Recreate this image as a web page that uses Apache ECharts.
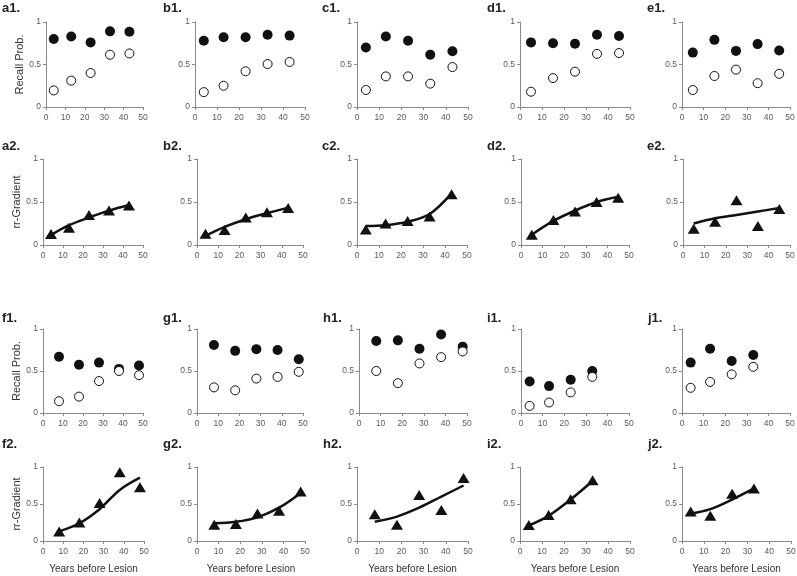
<!DOCTYPE html>
<html><head><meta charset="utf-8">
<script src="https://cdn.jsdelivr.net/npm/echarts@6/dist/echarts.min.js"></script>
<style>html,body{margin:0;padding:0;background:#fff}#c{width:797px;height:576px}</style>
</head><body><div id="c"></div>
<script>
// x positions (years before lesion)
const xA = [4, 13, 23, 33, 43];
const xD = [5, 15, 25, 35, 45];
const xF = [8, 18, 28, 38, 48];
const xI = [4, 13, 23, 33];

// Recall probability: filled and open circles
const a1Filled = [0.80, 0.83, 0.76, 0.89, 0.885];
const a1Open   = [0.195, 0.31, 0.40, 0.615, 0.63];
const b1Filled = [0.78, 0.82, 0.82, 0.85, 0.84];
const b1Open   = [0.175, 0.25, 0.42, 0.505, 0.53];
const c1Filled = [0.70, 0.83, 0.78, 0.615, 0.655];
const c1Open   = [0.20, 0.36, 0.36, 0.275, 0.47];
const d1Filled = [0.76, 0.75, 0.745, 0.85, 0.835];
const d1Open   = [0.18, 0.34, 0.415, 0.625, 0.635];
const e1Filled = [0.64, 0.79, 0.66, 0.74, 0.665];
const e1Open   = [0.20, 0.365, 0.44, 0.28, 0.39];
const f1Filled = [0.67, 0.575, 0.60, 0.525, 0.565];
const f1Open   = [0.14, 0.195, 0.38, 0.50, 0.45];
const g1Filled = [0.81, 0.74, 0.76, 0.75, 0.64];
const g1Open   = [0.305, 0.27, 0.41, 0.43, 0.49];
const h1Filled = [0.857, 0.865, 0.765, 0.935, 0.79];
const h1Open   = [0.50, 0.355, 0.59, 0.665, 0.733];
const i1Filled = [0.375, 0.32, 0.395, 0.50];
const i1Open   = [0.085, 0.125, 0.245, 0.43];
const j1Filled = [0.60, 0.765, 0.62, 0.69];
const j1Open   = [0.30, 0.37, 0.46, 0.55];

// rr-Gradient: triangles = observed, fit = fitted curve
const a2Tri = [0.127, 0.20, 0.35, 0.40, 0.458];
const a2Fit = [0.115, 0.23, 0.32, 0.40, 0.465];
const b2Tri = [0.13, 0.175, 0.32, 0.38, 0.43];
const b2Fit = [0.105, 0.21, 0.30, 0.37, 0.435];
const c2Tri = [0.18, 0.25, 0.28, 0.33, 0.59];
const c2Fit = [0.22, 0.23, 0.27, 0.36, 0.60];
const d2Tri = [0.12, 0.29, 0.39, 0.50, 0.55];
const d2Fit = [0.12, 0.28, 0.40, 0.50, 0.56];
const e2Tri = [0.19, 0.27, 0.52, 0.22, 0.42];
const e2Fit = [0.25, 0.31, 0.35, 0.39, 0.43];
const f2Tri = [0.13, 0.25, 0.515, 0.93, 0.727];
const f2Fit = [0.13, 0.24, 0.43, 0.69, 0.855];
const g2Tri = [0.22, 0.23, 0.37, 0.41, 0.67];
const g2Fit = [0.24, 0.26, 0.32, 0.45, 0.65];
const h2Tri = [0.36, 0.22, 0.62, 0.42, 0.85];
const h2Fit = [0.26, 0.33, 0.45, 0.60, 0.75];
const i2Tri = [0.215, 0.35, 0.565, 0.82];
const i2Fit = [0.21, 0.34, 0.56, 0.81];
const j2Tri = [0.40, 0.34, 0.64, 0.71];
const j2Fit = [0.37, 0.43, 0.56, 0.71];

const panelLabels = ['a1.','b1.','c1.','d1.','e1.','a2.','b2.','c2.','d2.','e2.',
                     'f1.','g1.','h1.','i1.','j1.','f2.','g2.','h2.','i2.','j2.'];
const yNameRecall = 'Recall Prob.';
const yNameGrad = 'rr-Gradient';
const xNameText = 'Years before Lesion';

// panel content definitions
const panels = [
  {kind: 1, x: xA, filled: a1Filled, open: a1Open, yName: yNameRecall, yGap: 12},
  {kind: 1, x: xA, filled: b1Filled, open: b1Open},
  {kind: 1, x: xA, filled: c1Filled, open: c1Open},
  {kind: 1, x: xD, filled: d1Filled, open: d1Open},
  {kind: 1, x: xD, filled: e1Filled, open: e1Open},
  {kind: 2, x: xA, tri: a2Tri, fit: a2Fit, yName: yNameGrad, yGap: 15},
  {kind: 2, x: xA, tri: b2Tri, fit: b2Fit},
  {kind: 2, x: xA, tri: c2Tri, fit: c2Fit},
  {kind: 2, x: xD, tri: d2Tri, fit: d2Fit},
  {kind: 2, x: xD, tri: e2Tri, fit: e2Fit},
  {kind: 1, x: xF, filled: f1Filled, open: f1Open, yName: yNameRecall, yGap: 15},
  {kind: 1, x: xF, filled: g1Filled, open: g1Open},
  {kind: 1, x: xF, filled: h1Filled, open: h1Open},
  {kind: 1, x: xI, filled: i1Filled, open: i1Open},
  {kind: 1, x: xI, filled: j1Filled, open: j1Open},
  {kind: 2, x: xF, tri: f2Tri, fit: f2Fit, yName: yNameGrad, yGap: 13, xName: xNameText},
  {kind: 2, x: xF, tri: g2Tri, fit: g2Fit, xName: xNameText},
  {kind: 2, x: xF, tri: h2Tri, fit: h2Fit, xName: xNameText},
  {kind: 2, x: xI, tri: i2Tri, fit: i2Fit, xName: xNameText},
  {kind: 2, x: xI, tri: j2Tri, fit: j2Fit, xName: xNameText}
];

// layout: [left, right, top, bottom] in pixels
const layout = [
  [46,143,22,107],[195,305,22,107],[357,468,22,107],[520,630,22,107],[682,790,22,107],
  [43,143,159,245],[197,303,159,245],[357,467,159,245],[521,629,159,245],[683,790,159,245],
  [43,143,329,413],[197,303,329,413],[359,467,329,413],[521,629,329,413],[682,790,329,413],
  [43,144,467,541],[197,305,467,541],[357,468,467,541],[520,630,467,541],[682,791,467,541]
];
const labelPos = [
  [2,2],[163,2],[322,2],[487,2],[647,2],
  [2,140],[163,140],[322,140],[487,140],[647,140],
  [2,312],[163,312],[323,312],[487,312],[648,312],
  [2,438],[163,438],[323,438],[487,438],[648,438]
];

const FONT = 'Liberation Sans, Arial, Helvetica, sans-serif';
const axisColor = '#8a8a8a';
const labelColor = '#5a5a5a';

const grids = [], xAxes = [], yAxes = [], series = [], graphics = [];
panels.forEach((p, i) => {
  const [l, r, t, b] = layout[i];
  grids.push({left: l, top: t, width: r - l, height: b - t, containLabel: false, outerBoundsMode: 'none'});
  xAxes.push({
    type: 'value', gridIndex: i, min: 0, max: 50, interval: 10,
    axisLine: {show: true, lineStyle: {color: axisColor, width: 1}},
    axisTick: {show: true, length: 3, lineStyle: {color: axisColor}},
    axisLabel: {color: labelColor, fontSize: 8.5, fontFamily: FONT, margin: 6, showMinLabel: true, showMaxLabel: true, hideOverlap: false},
    splitLine: {show: false},
    name: p.xName || '', nameLocation: 'middle', nameGap: 23,
    nameTextStyle: {color: '#333', fontSize: 10, fontFamily: FONT}
  });
  yAxes.push({
    type: 'value', gridIndex: i, min: 0, max: 1, interval: 0.5,
    axisLine: {show: true, lineStyle: {color: axisColor, width: 1}},
    axisTick: {show: true, length: 3, lineStyle: {color: axisColor}},
    axisLabel: {color: labelColor, fontSize: 8.5, fontFamily: FONT, margin: 5, showMinLabel: true, showMaxLabel: true, hideOverlap: false},
    splitLine: {show: false},
    name: p.yName || '', nameLocation: 'middle', nameGap: p.yGap || 15, nameRotate: 90,
    nameTextStyle: {color: '#333', fontSize: 11, fontFamily: FONT}
  });
  const pair = arr => p.x.map((v, k) => [v, arr[k]]);
  if (p.kind === 1) {
    series.push({type: 'scatter', xAxisIndex: i, yAxisIndex: i, symbol: 'circle', symbolSize: 10,
      itemStyle: {color: '#111', opacity: 1}, data: pair(p.filled), z: 2, silent: true});
    series.push({type: 'scatter', xAxisIndex: i, yAxisIndex: i, symbol: 'circle', symbolSize: 9,
      itemStyle: {color: '#fff', borderColor: '#111', borderWidth: 1, opacity: 1}, data: pair(p.open), z: 3, silent: true});
  } else {
    series.push({type: 'line', xAxisIndex: i, yAxisIndex: i, smooth: 0.35, showSymbol: false, symbol: 'none',
      lineStyle: {color: '#111', width: 2.5}, data: pair(p.fit), z: 2, silent: true});
    series.push({type: 'scatter', xAxisIndex: i, yAxisIndex: i, symbol: 'triangle', symbolSize: [12, 10],
      itemStyle: {color: '#111', opacity: 1}, data: pair(p.tri), z: 3, silent: true});
  }
  graphics.push({type: 'text', left: labelPos[i][0], top: labelPos[i][1],
    style: {text: panelLabels[i], font: 'bold 13px ' + FONT, fill: '#222'}});
});

const chart = echarts.init(document.getElementById('c'), null, {renderer: 'canvas'});
chart.setOption({
  backgroundColor: '#fff',
  animation: false,
  grid: grids, xAxis: xAxes, yAxis: yAxes, series: series, graphic: graphics
});
</script>
</body></html>
